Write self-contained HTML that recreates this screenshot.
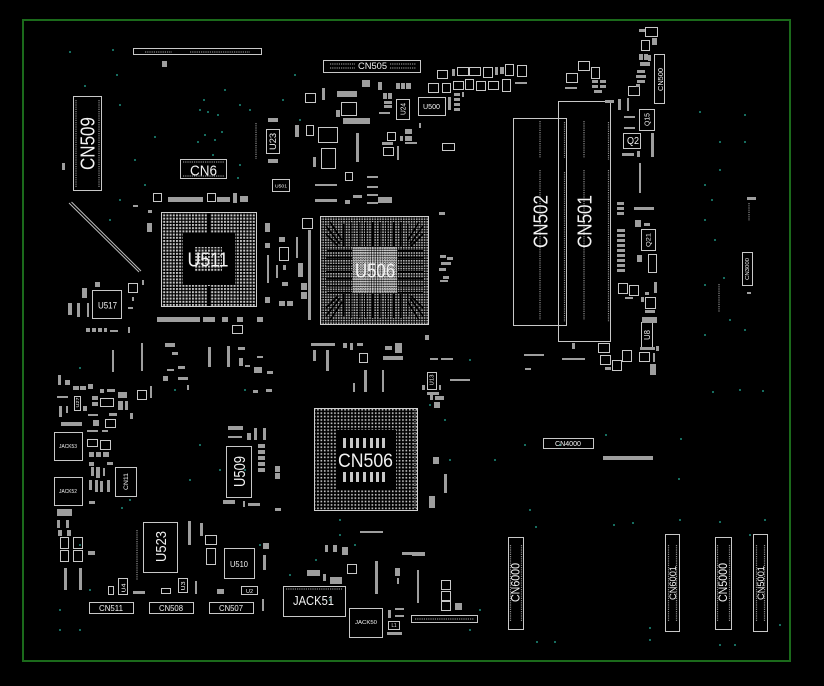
<!DOCTYPE html>
<html><head><meta charset="utf-8"><style>
html,body{margin:0;padding:0;background:#000;width:824px;height:686px;overflow:hidden}
svg{display:block}
.o rect{fill:none;stroke:#c8c8c8;stroke-width:1}
.p rect{fill:#9e9e9e}
.d line{stroke:#8a8a8a;stroke-width:1.2;stroke-dasharray:1.2 1}
text{font-family:"Liberation Sans",Arial,sans-serif;fill:#f2f2f2}
.v circle{fill:#1d8f7e}
</style></head><body>
<svg width="824" height="686" viewBox="0 0 824 686" xmlns="http://www.w3.org/2000/svg">
<defs>
<pattern id="g1" width="3.2" height="3.2" patternUnits="userSpaceOnUse"><rect width="2" height="2" fill="#c4c4c4"/></pattern>
<pattern id="g2" width="2.6" height="2.6" patternUnits="userSpaceOnUse"><rect width="1.6" height="1.6" fill="#b4b4b4"/></pattern>
<pattern id="g4" width="2.4" height="2.4" patternUnits="userSpaceOnUse"><rect width="1.7" height="1.7" fill="#c8c8c8"/></pattern>
<pattern id="g3" width="3.4" height="3.4" patternUnits="userSpaceOnUse"><rect x="0.9" y="0.9" width="1.7" height="1.7" fill="#bdbdbd"/></pattern>
</defs>
<rect width="824" height="686" fill="#000"/>
<rect x="23" y="20" width="767" height="641" fill="none" stroke="#1b6a1b" stroke-width="2"/>

<g class="v">
<circle cx="113" cy="50" r="1"/><circle cx="117" cy="75" r="1"/><circle cx="120" cy="105" r="1"/><circle cx="200" cy="110" r="1"/><circle cx="205" cy="135" r="1"/><circle cx="155" cy="137" r="1"/><circle cx="240" cy="105" r="1"/><circle cx="213" cy="155" r="1"/><circle cx="135" cy="160" r="1"/><circle cx="145" cy="185" r="1"/><circle cx="120" cy="200" r="1"/><circle cx="238" cy="178" r="1"/><circle cx="110" cy="220" r="1"/><circle cx="240" cy="165" r="1"/><circle cx="250" cy="110" r="1"/><circle cx="295" cy="75" r="1"/><circle cx="300" cy="120" r="1"/><circle cx="283" cy="100" r="1"/><circle cx="215" cy="140" r="1"/><circle cx="204" cy="100" r="1"/><circle cx="218" cy="115" r="1"/><circle cx="225" cy="90" r="1"/><circle cx="208" cy="112" r="1"/><circle cx="198" cy="142" r="1"/><circle cx="222" cy="132" r="1"/><circle cx="70" cy="52" r="1"/><circle cx="85" cy="86" r="1"/>
<circle cx="700" cy="112" r="1"/><circle cx="720" cy="142" r="1"/><circle cx="745" cy="142" r="1"/><circle cx="720" cy="170" r="1"/><circle cx="705" cy="185" r="1"/><circle cx="712" cy="200" r="1"/><circle cx="705" cy="220" r="1"/><circle cx="715" cy="240" r="1"/><circle cx="724" cy="278" r="1"/><circle cx="730" cy="320" r="1"/><circle cx="745" cy="330" r="1"/><circle cx="705" cy="335" r="1"/><circle cx="705" cy="285" r="1"/><circle cx="740" cy="390" r="1"/><circle cx="745" cy="115" r="1"/><circle cx="713" cy="392" r="1"/><circle cx="763" cy="391" r="1"/>
<circle cx="430" cy="405" r="1"/><circle cx="445" cy="420" r="1"/><circle cx="470" cy="360" r="1"/><circle cx="525" cy="445" r="1"/><circle cx="560" cy="445" r="1"/><circle cx="495" cy="460" r="1"/><circle cx="450" cy="460" r="1"/><circle cx="530" cy="510" r="1"/><circle cx="536" cy="527" r="1"/><circle cx="614" cy="525" r="1"/><circle cx="633" cy="523" r="1"/><circle cx="680" cy="520" r="1"/><circle cx="720" cy="522" r="1"/><circle cx="750" cy="535" r="1"/><circle cx="765" cy="520" r="1"/><circle cx="537" cy="642" r="1"/><circle cx="555" cy="642" r="1"/><circle cx="650" cy="640" r="1"/><circle cx="720" cy="645" r="1"/><circle cx="735" cy="645" r="1"/><circle cx="780" cy="625" r="1"/><circle cx="650" cy="628" r="1"/><circle cx="470" cy="630" r="1"/><circle cx="480" cy="610" r="1"/><circle cx="681" cy="439" r="1"/><circle cx="679" cy="479" r="1"/><circle cx="606" cy="435" r="1"/>
<circle cx="80" cy="630" r="1"/><circle cx="90" cy="590" r="1"/><circle cx="60" cy="610" r="1"/><circle cx="80" cy="545" r="1"/><circle cx="200" cy="445" r="1"/><circle cx="190" cy="480" r="1"/><circle cx="175" cy="390" r="1"/><circle cx="245" cy="390" r="1"/><circle cx="220" cy="470" r="1"/><circle cx="130" cy="500" r="1"/><circle cx="245" cy="470" r="1"/><circle cx="260" cy="545" r="1"/><circle cx="340" cy="520" r="1"/><circle cx="355" cy="545" r="1"/><circle cx="330" cy="600" r="1"/><circle cx="340" cy="535" r="1"/><circle cx="290" cy="575" r="1"/><circle cx="316" cy="560" r="1"/><circle cx="60" cy="630" r="1"/><circle cx="80" cy="368" r="1"/><circle cx="122" cy="508" r="1"/>
</g>

<line x1="69" y1="203" x2="139" y2="272" stroke="#bcbcbc" stroke-width="1"/>
<line x1="71.5" y1="202" x2="141" y2="271" stroke="#bcbcbc" stroke-width="1"/>

<rect x="161.5" y="212.5" width="95" height="94" fill="url(#g1)" stroke="#d0d0d0"/>
<rect x="183" y="233" width="52" height="52" fill="#000"/>
<rect x="195" y="247" width="27" height="25" fill="url(#g1)"/>
<rect x="207" y="213" width="3" height="20" fill="#000"/>
<rect x="207" y="286" width="3" height="20" fill="#000"/>

<rect x="320.5" y="216.5" width="108" height="108" fill="url(#g2)" stroke="#d0d0d0"/>
<rect x="353" y="247" width="44" height="46" fill="url(#g4)"/>
<g fill="#000">
<rect x="343" y="224" width="1.6" height="22"/><rect x="350" y="222" width="1.6" height="24"/><rect x="358" y="222" width="1.6" height="24"/><rect x="365" y="222" width="1.6" height="24"/><rect x="372" y="222" width="1.6" height="24"/><rect x="379" y="222" width="1.6" height="24"/><rect x="386" y="222" width="1.6" height="24"/><rect x="393" y="222" width="1.6" height="24"/><rect x="400" y="222" width="1.6" height="24"/><rect x="407" y="224" width="1.6" height="22"/>
<rect x="343" y="294" width="1.6" height="22"/><rect x="350" y="294" width="1.6" height="24"/><rect x="358" y="294" width="1.6" height="24"/><rect x="365" y="294" width="1.6" height="24"/><rect x="372" y="294" width="1.6" height="24"/><rect x="379" y="294" width="1.6" height="24"/><rect x="386" y="294" width="1.6" height="24"/><rect x="393" y="294" width="1.6" height="24"/><rect x="400" y="294" width="1.6" height="24"/><rect x="407" y="294" width="1.6" height="22"/>
<rect x="327" y="250" width="25" height="1.6"/><rect x="326" y="257" width="26" height="1.6"/><rect x="326" y="264" width="26" height="1.6"/><rect x="326" y="271" width="26" height="1.6"/><rect x="326" y="278" width="26" height="1.6"/><rect x="326" y="285" width="26" height="1.6"/><rect x="327" y="292" width="25" height="1.6"/>
<rect x="398" y="250" width="25" height="1.6"/><rect x="398" y="257" width="26" height="1.6"/><rect x="398" y="264" width="26" height="1.6"/><rect x="398" y="271" width="26" height="1.6"/><rect x="398" y="278" width="26" height="1.6"/><rect x="398" y="285" width="26" height="1.6"/><rect x="398" y="292" width="25" height="1.6"/>
</g>
<g stroke="#000" stroke-width="1.6">
<line x1="326" y1="226" x2="340" y2="244"/><line x1="330" y1="222" x2="342" y2="240"/><line x1="326" y1="234" x2="338" y2="246"/>
<line x1="423" y1="226" x2="410" y2="244"/><line x1="419" y1="222" x2="408" y2="240"/><line x1="423" y1="234" x2="411" y2="246"/>
<line x1="326" y1="316" x2="340" y2="298"/><line x1="330" y1="320" x2="342" y2="302"/><line x1="326" y1="308" x2="338" y2="296"/>
<line x1="423" y1="316" x2="410" y2="298"/><line x1="419" y1="320" x2="408" y2="302"/><line x1="423" y1="308" x2="411" y2="296"/>
</g>

<rect x="314.5" y="408.5" width="103" height="102" fill="url(#g3)" stroke="#d0d0d0"/>
<rect x="336" y="430" width="60" height="60" fill="#000"/>
<g fill="#c8c8c8">
<rect x="343" y="438" width="3" height="10"/><rect x="350" y="438" width="3" height="10"/><rect x="356" y="438" width="3" height="10"/><rect x="363" y="438" width="3" height="10"/><rect x="370" y="438" width="3" height="10"/><rect x="376" y="438" width="3" height="10"/><rect x="382" y="438" width="3" height="10"/>
<rect x="343" y="472" width="3" height="10"/><rect x="350" y="472" width="3" height="10"/><rect x="356" y="472" width="3" height="10"/><rect x="363" y="472" width="3" height="10"/><rect x="370" y="472" width="3" height="10"/><rect x="376" y="472" width="3" height="10"/><rect x="382" y="472" width="3" height="10"/>
</g>

<g class="o">
<rect x="133.5" y="48.5" width="128" height="6"/>
<rect x="323.5" y="60.5" width="97" height="12"/>
<rect x="73.5" y="96.5" width="28" height="94"/>
<rect x="180.5" y="159.5" width="46" height="19"/>
<rect x="266.5" y="129.5" width="13" height="24"/>
<rect x="272.5" y="179.5" width="17" height="12"/>
<rect x="92.5" y="290.5" width="29" height="28"/>
<rect x="513.5" y="118.5" width="53" height="207"/>
<rect x="558.5" y="101.5" width="52" height="240"/>
<rect x="418.5" y="97.5" width="27" height="18"/>
<rect x="396.5" y="99.5" width="13" height="20"/>
<rect x="654.5" y="54.5" width="10" height="49"/>
<rect x="639.5" y="109.5" width="15" height="21"/>
<rect x="623.5" y="133.5" width="17" height="15"/>
<rect x="641.5" y="229.5" width="14" height="21"/>
<rect x="742.5" y="252.5" width="10" height="33"/>
<rect x="641.5" y="322.5" width="11" height="25"/>
<rect x="543.5" y="438.5" width="50" height="10"/>
<rect x="508.5" y="537.5" width="15" height="92"/>
<rect x="665.5" y="534.5" width="14" height="97"/>
<rect x="715.5" y="537.5" width="16" height="92"/>
<rect x="753.5" y="534.5" width="14" height="97"/>
<rect x="54.5" y="432.5" width="28" height="28"/>
<rect x="54.5" y="477.5" width="28" height="28"/>
<rect x="115.5" y="467.5" width="21" height="29"/>
<rect x="226.5" y="446.5" width="25" height="51"/>
<rect x="143.5" y="522.5" width="34" height="50"/>
<rect x="224.5" y="548.5" width="30" height="30"/>
<rect x="241.5" y="586.5" width="16" height="8"/>
<rect x="178.5" y="578.5" width="9" height="14"/>
<rect x="118.5" y="578.5" width="9" height="16"/>
<rect x="89.5" y="602.5" width="44" height="11"/>
<rect x="149.5" y="602.5" width="44" height="11"/>
<rect x="209.5" y="602.5" width="44" height="11"/>
<rect x="283.5" y="586.5" width="62" height="30"/>
<rect x="349.5" y="608.5" width="33" height="29"/>
<rect x="388.5" y="621.5" width="11" height="8"/>
<rect x="411.5" y="615.5" width="66" height="7"/>
<rect x="74.5" y="396.5" width="6" height="14"/>
<rect x="427.5" y="372.5" width="9" height="17"/>
<rect x="305.5" y="93.5" width="10" height="9"/><rect x="341.5" y="102.5" width="15" height="13"/><rect x="318.5" y="127.5" width="19" height="15"/><rect x="321.5" y="148.5" width="14" height="20"/><rect x="345.5" y="172.5" width="7" height="8"/><rect x="306.5" y="125.5" width="7" height="10"/><rect x="387.5" y="132.5" width="8" height="8"/><rect x="383.5" y="147.5" width="10" height="8"/><rect x="153.5" y="193.5" width="8" height="8"/><rect x="207.5" y="193.5" width="8" height="8"/><rect x="232.5" y="325.5" width="10" height="8"/><rect x="279.5" y="247.5" width="9" height="13"/><rect x="302.5" y="218.5" width="10" height="10"/><rect x="128.5" y="283.5" width="9" height="9"/>
<rect x="437.5" y="70.5" width="10" height="8"/><rect x="457.5" y="67.5" width="11" height="8"/><rect x="469.5" y="67.5" width="11" height="8"/><rect x="483.5" y="67.5" width="9" height="10"/><rect x="505.5" y="64.5" width="8" height="11"/><rect x="517.5" y="65.5" width="9" height="11"/><rect x="428.5" y="83.5" width="10" height="9"/><rect x="442.5" y="83.5" width="8" height="9"/><rect x="453.5" y="81.5" width="10" height="8"/><rect x="465.5" y="79.5" width="8" height="10"/><rect x="476.5" y="81.5" width="9" height="9"/><rect x="488.5" y="81.5" width="10" height="8"/><rect x="502.5" y="79.5" width="8" height="12"/><rect x="442.5" y="143.5" width="12" height="7"/>
<rect x="578.5" y="61.5" width="11" height="9"/><rect x="591.5" y="67.5" width="8" height="11"/><rect x="566.5" y="73.5" width="11" height="9"/><rect x="645.5" y="27.5" width="12" height="9"/><rect x="641.5" y="40.5" width="8" height="10"/><rect x="628.5" y="86.5" width="11" height="9"/><rect x="648.5" y="254.5" width="8" height="18"/><rect x="618.5" y="283.5" width="9" height="10"/><rect x="629.5" y="285.5" width="9" height="10"/><rect x="645.5" y="297.5" width="10" height="11"/>
<rect x="100.5" y="398.5" width="13" height="8"/><rect x="137.5" y="390.5" width="9" height="9"/><rect x="105.5" y="419.5" width="10" height="8"/><rect x="87.5" y="439.5" width="10" height="7"/><rect x="100.5" y="440.5" width="10" height="9"/><rect x="60.5" y="537.5" width="8" height="11"/><rect x="73.5" y="537.5" width="9" height="11"/><rect x="60.5" y="550.5" width="8" height="11"/><rect x="73.5" y="550.5" width="9" height="11"/><rect x="108.5" y="586.5" width="5" height="8"/><rect x="205.5" y="535.5" width="11" height="9"/><rect x="206.5" y="548.5" width="9" height="16"/><rect x="359.5" y="353.5" width="8" height="9"/><rect x="347.5" y="564.5" width="9" height="9"/><rect x="598.5" y="343.5" width="11" height="9"/><rect x="600.5" y="355.5" width="10" height="9"/><rect x="612.5" y="360.5" width="9" height="10"/><rect x="622.5" y="350.5" width="9" height="11"/><rect x="639.5" y="352.5" width="10" height="9"/><rect x="441.5" y="580.5" width="9" height="9"/><rect x="441.5" y="591.5" width="9" height="9"/><rect x="441.5" y="601.5" width="9" height="9"/><rect x="161.5" y="588.5" width="9" height="5"/>
</g>

<g class="d">
<line x1="145" y1="52" x2="172" y2="52"/><line x1="190" y1="52" x2="250" y2="52"/>
<line x1="330" y1="64" x2="355" y2="64"/><line x1="330" y1="68" x2="355" y2="68"/><line x1="390" y1="64" x2="416" y2="64"/><line x1="390" y1="68" x2="416" y2="68"/>
<line x1="76" y1="100" x2="76" y2="188"/><line x1="99" y1="100" x2="99" y2="188"/>
<line x1="183" y1="162" x2="224" y2="162"/><line x1="183" y1="176" x2="224" y2="176"/>
<line x1="540" y1="121" x2="540" y2="158"/><line x1="540" y1="170" x2="540" y2="320"/>
<line x1="564.5" y1="122" x2="564.5" y2="158"/><line x1="564.5" y1="172" x2="564.5" y2="322"/>
<line x1="584" y1="121" x2="584" y2="158"/><line x1="584" y1="170" x2="584" y2="320"/>
<line x1="608.5" y1="122" x2="608.5" y2="160"/><line x1="608.5" y1="170" x2="608.5" y2="322"/>
<line x1="510.5" y1="545" x2="510.5" y2="622"/><line x1="521.5" y1="545" x2="521.5" y2="622"/>
<line x1="717.5" y1="545" x2="717.5" y2="622"/><line x1="729.5" y1="545" x2="729.5" y2="622"/>
<line x1="668.5" y1="545" x2="668.5" y2="622"/><line x1="676.5" y1="545" x2="676.5" y2="622"/>
<line x1="756.5" y1="545" x2="756.5" y2="622"/><line x1="764.5" y1="545" x2="764.5" y2="622"/>
<line x1="606" y1="458" x2="651" y2="458"/>
<line x1="415" y1="619" x2="474" y2="619"/>
<line x1="415" y1="410" x2="415" y2="508"/>
<line x1="286" y1="589" x2="342" y2="589"/>
<line x1="719" y1="284" x2="719" y2="312"/><line x1="749" y1="203" x2="749" y2="221"/>
<line x1="256" y1="123" x2="256" y2="159"/><line x1="309.5" y1="231" x2="309.5" y2="319"/>
<line x1="170" y1="199" x2="203" y2="199"/><line x1="170" y1="319" x2="200" y2="319"/>
<line x1="137" y1="530" x2="137" y2="580"/>
</g>

<g class="p">
<rect x="162" y="61" width="5" height="6"/><rect x="62" y="163" width="3" height="7"/>
<rect x="268" y="118" width="10" height="4"/><rect x="268" y="159" width="10" height="4"/><rect x="295" y="125" width="4" height="12"/><rect x="313" y="157" width="3" height="10"/><rect x="322" y="88" width="3" height="12"/><rect x="337" y="91" width="20" height="6"/><rect x="336" y="110" width="4" height="7"/><rect x="343" y="118" width="27" height="6"/><rect x="356" y="133" width="3" height="29"/><rect x="315" y="184" width="22" height="2"/><rect x="315" y="199" width="22" height="3"/><rect x="367" y="176" width="11" height="2"/><rect x="367" y="186" width="11" height="2"/><rect x="367" y="194" width="11" height="2"/><rect x="367" y="202" width="11" height="2"/><rect x="353" y="195" width="9" height="3"/><rect x="378" y="197" width="14" height="6"/><rect x="345" y="200" width="5" height="4"/>
<rect x="383" y="93" width="4" height="6"/><rect x="388" y="93" width="4" height="6"/><rect x="384" y="101" width="8" height="3"/><rect x="384" y="105" width="8" height="3"/>
<rect x="396" y="83" width="4" height="6"/><rect x="401" y="83" width="4" height="6"/><rect x="406" y="83" width="5" height="6"/>
<rect x="405" y="129" width="7" height="5"/><rect x="405" y="136" width="7" height="5"/>
<rect x="382" y="142" width="11" height="3"/><rect x="397" y="146" width="2" height="14"/><rect x="400" y="136" width="3" height="5"/><rect x="405" y="142" width="12" height="2"/><rect x="379" y="112" width="11" height="2"/><rect x="378" y="82" width="4" height="8"/><rect x="362" y="80" width="8" height="7"/>
<rect x="168" y="197" width="35" height="5"/><rect x="217" y="197" width="13" height="5"/><rect x="233" y="193" width="4" height="10"/><rect x="240" y="196" width="8" height="6"/>
<rect x="157" y="317" width="16" height="5"/><rect x="168" y="317" width="32" height="5"/><rect x="203" y="317" width="12" height="5"/><rect x="222" y="317" width="6" height="5"/><rect x="237" y="317" width="6" height="5"/><rect x="257" y="317" width="6" height="5"/>
<rect x="265" y="223" width="5" height="9"/><rect x="265" y="243" width="5" height="5"/><rect x="265" y="297" width="5" height="6"/><rect x="267" y="255" width="2" height="28"/><rect x="279" y="237" width="6" height="5"/><rect x="283" y="265" width="3" height="5"/><rect x="282" y="282" width="6" height="4"/><rect x="296" y="237" width="2" height="21"/><rect x="308" y="230" width="3" height="90"/><rect x="298" y="263" width="5" height="14"/>
<rect x="279" y="301" width="6" height="5"/><rect x="287" y="301" width="6" height="5"/><rect x="301" y="283" width="6" height="7"/><rect x="301" y="292" width="6" height="7"/>
<rect x="276" y="265" width="2" height="13"/><rect x="147" y="223" width="5" height="9"/><rect x="133" y="205" width="5" height="2"/><rect x="148" y="210" width="4" height="3"/>
<rect x="82" y="288" width="5" height="10"/><rect x="95" y="282" width="5" height="5"/><rect x="142" y="280" width="2" height="5"/><rect x="132" y="297" width="2" height="4"/><rect x="128" y="307" width="5" height="2"/><rect x="68" y="303" width="4" height="12"/><rect x="77" y="303" width="3" height="14"/><rect x="87" y="303" width="2" height="14"/>
<rect x="86" y="328" width="4" height="4"/><rect x="92" y="328" width="4" height="4"/><rect x="98" y="328" width="4" height="4"/><rect x="104" y="328" width="3" height="4"/>
<rect x="110" y="330" width="8" height="2"/><rect x="128" y="327" width="2" height="6"/>
<rect x="452" y="69" width="3" height="7"/><rect x="495" y="67" width="3" height="8"/><rect x="500" y="67" width="4" height="7"/><rect x="515" y="82" width="12" height="2"/>
<rect x="454" y="93" width="6" height="3"/><rect x="454" y="98" width="6" height="3"/><rect x="454" y="103" width="6" height="3"/><rect x="454" y="108" width="6" height="3"/>
<rect x="462" y="92" width="2" height="5"/><rect x="448" y="97" width="3" height="13"/><rect x="419" y="123" width="2" height="5"/>
<rect x="592" y="80" width="6" height="3"/><rect x="600" y="80" width="6" height="3"/><rect x="592" y="85" width="6" height="3"/><rect x="600" y="85" width="6" height="3"/><rect x="594" y="90" width="8" height="3"/>
<rect x="565" y="87" width="12" height="2"/><rect x="605" y="100" width="9" height="3"/><rect x="618" y="99" width="3" height="11"/><rect x="627" y="98" width="2" height="13"/><rect x="624" y="116" width="11" height="2"/><rect x="624" y="127" width="11" height="2"/><rect x="622" y="153" width="12" height="3"/><rect x="637" y="151" width="3" height="6"/><rect x="651" y="133" width="3" height="24"/><rect x="639" y="163" width="2" height="30"/><rect x="634" y="207" width="20" height="3"/>
<rect x="617" y="202" width="7" height="3"/><rect x="617" y="207" width="7" height="3"/><rect x="617" y="212" width="7" height="3"/>
<rect x="617" y="229" width="8" height="3"/><rect x="617" y="234" width="8" height="3"/><rect x="617" y="239" width="8" height="3"/><rect x="617" y="244" width="8" height="3"/><rect x="617" y="249" width="8" height="3"/><rect x="617" y="254" width="8" height="3"/><rect x="617" y="259" width="8" height="3"/><rect x="617" y="264" width="8" height="3"/><rect x="617" y="269" width="8" height="3"/>
<rect x="635" y="220" width="6" height="7"/><rect x="644" y="223" width="6" height="3"/><rect x="637" y="255" width="5" height="7"/><rect x="654" y="282" width="3" height="11"/><rect x="625" y="297" width="8" height="2"/><rect x="645" y="292" width="4" height="3"/><rect x="641" y="297" width="3" height="5"/><rect x="645" y="310" width="10" height="3"/><rect x="642" y="317" width="15" height="6"/>
<rect x="639" y="29" width="6" height="3"/><rect x="652" y="38" width="5" height="7"/>
<rect x="639" y="54" width="4" height="6"/><rect x="644" y="54" width="4" height="6"/><rect x="648" y="55" width="3" height="6"/><rect x="640" y="62" width="10" height="4"/>
<rect x="637" y="70" width="8" height="3"/><rect x="636" y="75" width="10" height="3"/><rect x="637" y="80" width="8" height="3"/><rect x="636" y="84" width="4" height="3"/>
<rect x="747" y="197" width="9" height="3"/><rect x="747" y="292" width="4" height="2"/>
<rect x="440" y="255" width="6" height="3"/><rect x="447" y="257" width="6" height="3"/><rect x="441" y="262" width="10" height="3"/><rect x="439" y="268" width="7" height="3"/><rect x="443" y="276" width="6" height="3"/><rect x="440" y="280" width="8" height="2"/><rect x="439" y="212" width="6" height="3"/><rect x="425" y="335" width="4" height="5"/>
<rect x="112" y="350" width="2" height="22"/><rect x="141" y="343" width="2" height="28"/><rect x="208" y="347" width="3" height="20"/><rect x="227" y="346" width="3" height="21"/><rect x="239" y="358" width="4" height="8"/><rect x="238" y="347" width="7" height="3"/><rect x="245" y="365" width="5" height="2"/><rect x="254" y="367" width="8" height="6"/><rect x="267" y="371" width="6" height="3"/><rect x="257" y="356" width="6" height="2"/><rect x="253" y="390" width="5" height="3"/><rect x="266" y="389" width="6" height="3"/>
<rect x="165" y="343" width="10" height="4"/><rect x="172" y="352" width="6" height="3"/><rect x="167" y="369" width="7" height="2"/><rect x="178" y="366" width="7" height="3"/><rect x="163" y="376" width="5" height="5"/><rect x="178" y="377" width="10" height="3"/><rect x="187" y="385" width="2" height="5"/>
<rect x="58" y="375" width="3" height="10"/><rect x="65" y="380" width="5" height="5"/><rect x="73" y="386" width="6" height="4"/><rect x="80" y="386" width="6" height="4"/><rect x="88" y="384" width="5" height="5"/><rect x="57" y="396" width="11" height="2"/><rect x="59" y="406" width="3" height="11"/><rect x="66" y="406" width="2" height="7"/><rect x="83" y="406" width="4" height="5"/><rect x="92" y="396" width="6" height="4"/><rect x="92" y="402" width="6" height="4"/><rect x="88" y="414" width="10" height="2"/><rect x="93" y="420" width="6" height="6"/><rect x="100" y="389" width="4" height="4"/><rect x="107" y="389" width="8" height="3"/><rect x="118" y="392" width="9" height="6"/><rect x="118" y="401" width="5" height="9"/><rect x="125" y="401" width="3" height="9"/><rect x="130" y="413" width="3" height="6"/><rect x="109" y="413" width="8" height="3"/><rect x="61" y="422" width="21" height="4"/><rect x="150" y="386" width="2" height="12"/>
<rect x="87" y="430" width="11" height="2"/><rect x="102" y="430" width="6" height="2"/><rect x="89" y="452" width="5" height="5"/><rect x="96" y="452" width="5" height="5"/><rect x="103" y="452" width="6" height="5"/><rect x="89" y="462" width="5" height="4"/><rect x="107" y="462" width="6" height="3"/><rect x="91" y="467" width="3" height="9"/><rect x="96" y="467" width="4" height="11"/><rect x="103" y="468" width="2" height="8"/><rect x="89" y="480" width="3" height="10"/><rect x="95" y="480" width="3" height="12"/><rect x="100" y="481" width="3" height="11"/><rect x="107" y="480" width="3" height="12"/><rect x="89" y="501" width="6" height="3"/>
<rect x="57" y="509" width="15" height="7"/><rect x="57" y="520" width="3" height="8"/><rect x="66" y="520" width="3" height="8"/><rect x="58" y="530" width="4" height="6"/><rect x="67" y="530" width="4" height="6"/><rect x="88" y="551" width="7" height="4"/>
<rect x="64" y="568" width="3" height="22"/><rect x="79" y="568" width="3" height="22"/><rect x="133" y="591" width="12" height="3"/>
<rect x="188" y="521" width="3" height="24"/><rect x="200" y="523" width="3" height="13"/><rect x="195" y="581" width="2" height="13"/><rect x="217" y="589" width="7" height="5"/><rect x="263" y="555" width="3" height="15"/><rect x="263" y="543" width="6" height="6"/><rect x="262" y="599" width="2" height="12"/>
<rect x="228" y="426" width="15" height="4"/><rect x="228" y="436" width="14" height="2"/><rect x="247" y="433" width="4" height="7"/><rect x="254" y="428" width="3" height="12"/><rect x="263" y="428" width="3" height="12"/>
<rect x="258" y="444" width="7" height="4"/><rect x="258" y="450" width="7" height="4"/><rect x="258" y="456" width="7" height="4"/><rect x="258" y="462" width="7" height="4"/><rect x="258" y="468" width="7" height="4"/>
<rect x="275" y="466" width="5" height="6"/><rect x="275" y="473" width="5" height="6"/><rect x="223" y="500" width="12" height="4"/><rect x="243" y="501" width="2" height="6"/><rect x="248" y="503" width="12" height="3"/><rect x="275" y="508" width="6" height="3"/>
<rect x="311" y="343" width="24" height="3"/><rect x="313" y="350" width="3" height="11"/><rect x="326" y="350" width="3" height="21"/><rect x="343" y="343" width="4" height="5"/><rect x="350" y="343" width="3" height="7"/><rect x="357" y="343" width="6" height="3"/><rect x="353" y="383" width="2" height="9"/><rect x="364" y="370" width="3" height="22"/><rect x="382" y="370" width="2" height="22"/><rect x="385" y="346" width="7" height="4"/><rect x="383" y="356" width="20" height="4"/><rect x="395" y="343" width="7" height="10"/>
<rect x="360" y="531" width="23" height="2"/><rect x="325" y="545" width="3" height="7"/><rect x="333" y="545" width="4" height="7"/><rect x="342" y="547" width="6" height="8"/><rect x="375" y="561" width="3" height="33"/><rect x="307" y="570" width="13" height="6"/><rect x="323" y="574" width="3" height="7"/><rect x="330" y="577" width="12" height="7"/><rect x="395" y="568" width="5" height="8"/><rect x="397" y="578" width="2" height="6"/><rect x="402" y="552" width="10" height="3"/><rect x="388" y="610" width="3" height="8"/><rect x="395" y="608" width="9" height="2"/><rect x="395" y="615" width="9" height="2"/><rect x="387" y="632" width="15" height="3"/>
<rect x="430" y="358" width="8" height="2"/><rect x="441" y="358" width="12" height="2"/><rect x="450" y="379" width="20" height="2"/><rect x="422" y="385" width="3" height="5"/><rect x="439" y="385" width="2" height="5"/><rect x="427" y="392" width="12" height="3"/><rect x="430" y="395" width="3" height="5"/><rect x="435" y="396" width="9" height="4"/><rect x="434" y="402" width="6" height="6"/>
<rect x="524" y="354" width="20" height="2"/><rect x="525" y="368" width="6" height="2"/><rect x="562" y="358" width="23" height="2"/><rect x="572" y="343" width="3" height="6"/>
<rect x="605" y="367" width="6" height="3"/><rect x="640" y="347" width="15" height="3"/><rect x="653" y="353" width="2" height="9"/><rect x="650" y="364" width="6" height="11"/><rect x="656" y="346" width="3" height="5"/>
<rect x="433" y="457" width="6" height="7"/><rect x="444" y="474" width="3" height="19"/><rect x="429" y="496" width="6" height="12"/>
<rect x="412" y="552" width="13" height="4"/><rect x="417" y="570" width="2" height="33"/><rect x="455" y="603" width="7" height="7"/>
<rect x="603" y="456" width="50" height="4"/>
</g>

<text transform="translate(87.5,143.5) rotate(-90)" y="7" font-size="20" text-anchor="middle" textLength="53" lengthAdjust="spacingAndGlyphs">CN509</text>
<text x="203.5" y="175.5" font-size="15" text-anchor="middle" textLength="27" lengthAdjust="spacingAndGlyphs">CN6</text>
<text x="208" y="266.5" font-size="20" text-anchor="middle" textLength="41" lengthAdjust="spacingAndGlyphs">U511</text>
<text x="375" y="277.5" font-size="20" text-anchor="middle" textLength="40" lengthAdjust="spacingAndGlyphs">U506</text>
<text transform="translate(540.5,221.5) rotate(-90)" y="7" font-size="20" text-anchor="middle" textLength="53" lengthAdjust="spacingAndGlyphs">CN502</text>
<text transform="translate(584.5,221.5) rotate(-90)" y="7" font-size="20" text-anchor="middle" textLength="53" lengthAdjust="spacingAndGlyphs">CN501</text>
<text x="365.5" y="467" font-size="19" text-anchor="middle" textLength="55" lengthAdjust="spacingAndGlyphs">CN506</text>
<text transform="translate(239,471.5) rotate(-90)" y="6" font-size="16" text-anchor="middle" textLength="31" lengthAdjust="spacingAndGlyphs">U509</text>
<text transform="translate(160.5,546.5) rotate(-90)" y="5.5" font-size="15" text-anchor="middle" textLength="31" lengthAdjust="spacingAndGlyphs">U523</text>
<text x="313.5" y="605" font-size="12.5" text-anchor="middle" textLength="41" lengthAdjust="spacingAndGlyphs">JACK51</text>
<g fill="#e6e6e6">
<text x="107.5" y="308.3" font-size="9" text-anchor="middle" textLength="19" lengthAdjust="spacingAndGlyphs">U517</text>
<text x="239" y="567" font-size="8.5" text-anchor="middle" textLength="18" lengthAdjust="spacingAndGlyphs">U510</text>
<text x="111" y="611" font-size="8.5" text-anchor="middle" textLength="24" lengthAdjust="spacingAndGlyphs">CN511</text>
<text x="171" y="611" font-size="8.5" text-anchor="middle" textLength="24" lengthAdjust="spacingAndGlyphs">CN508</text>
<text x="231" y="611" font-size="8.5" text-anchor="middle" textLength="24" lengthAdjust="spacingAndGlyphs">CN507</text>
<text x="372.5" y="69.2" font-size="9" text-anchor="middle" textLength="29" lengthAdjust="spacingAndGlyphs">CN505</text>
<text x="568" y="446" font-size="7" text-anchor="middle" textLength="26" lengthAdjust="spacingAndGlyphs">CN4000</text>
<text transform="translate(515.5,582.5) rotate(-90)" y="4" font-size="11.5" text-anchor="middle" textLength="39" lengthAdjust="spacingAndGlyphs">CN6000</text>
<text transform="translate(672.5,583) rotate(-90)" y="3.3" font-size="9.5" text-anchor="middle" textLength="34" lengthAdjust="spacingAndGlyphs">CN6001</text>
<text transform="translate(723,582.5) rotate(-90)" y="4" font-size="11.5" text-anchor="middle" textLength="39" lengthAdjust="spacingAndGlyphs">CN5000</text>
<text transform="translate(760.5,583) rotate(-90)" y="3.3" font-size="9.5" text-anchor="middle" textLength="34" lengthAdjust="spacingAndGlyphs">CN5001</text>
<text transform="translate(660.5,79.5) rotate(-90)" y="2.7" font-size="7.5" text-anchor="middle" textLength="23" lengthAdjust="spacingAndGlyphs">CN500</text>
<text transform="translate(647,119.5) rotate(-90)" y="2.6" font-size="7" text-anchor="middle" textLength="13" lengthAdjust="spacingAndGlyphs">Q15</text>
<text x="633" y="144" font-size="10" text-anchor="middle" textLength="12" lengthAdjust="spacingAndGlyphs">Q2</text>
<text transform="translate(648,240) rotate(-90)" y="2.3" font-size="6.5" text-anchor="middle" textLength="14" lengthAdjust="spacingAndGlyphs">Q21</text>
<text transform="translate(747,269) rotate(-90)" y="2" font-size="5.5" text-anchor="middle" textLength="22" lengthAdjust="spacingAndGlyphs">CN3000</text>
<text transform="translate(647,335) rotate(-90)" y="3" font-size="8" text-anchor="middle" textLength="10" lengthAdjust="spacingAndGlyphs">U8</text>
<text x="431.5" y="109" font-size="7" text-anchor="middle" textLength="17" lengthAdjust="spacingAndGlyphs">U500</text>
<text transform="translate(403,109) rotate(-90)" y="2.5" font-size="7" text-anchor="middle" textLength="12" lengthAdjust="spacingAndGlyphs">U24</text>
<text transform="translate(273,141.5) rotate(-90)" y="3.2" font-size="9" text-anchor="middle" textLength="17" lengthAdjust="spacingAndGlyphs">U23</text>
<text x="281" y="187.6" font-size="4.5" text-anchor="middle" textLength="12" lengthAdjust="spacingAndGlyphs">U501</text>
<text x="68" y="447.8" font-size="5" text-anchor="middle" textLength="18" lengthAdjust="spacingAndGlyphs">JACK53</text>
<text x="68" y="492.8" font-size="5" text-anchor="middle" textLength="18" lengthAdjust="spacingAndGlyphs">JACK52</text>
<text x="366" y="624" font-size="5.5" text-anchor="middle" textLength="22" lengthAdjust="spacingAndGlyphs">JACK50</text>
<text transform="translate(125.5,481.5) rotate(-90)" y="2.3" font-size="6.5" text-anchor="middle" textLength="17" lengthAdjust="spacingAndGlyphs">CN11</text>
<text x="249.5" y="592.8" font-size="5" text-anchor="middle" textLength="7" lengthAdjust="spacingAndGlyphs">U2</text>
<text transform="translate(183,586) rotate(-90)" y="1.8" font-size="5" text-anchor="middle" textLength="9" lengthAdjust="spacingAndGlyphs">U3</text>
<text transform="translate(123.5,588) rotate(-90)" y="1.8" font-size="5" text-anchor="middle" textLength="9" lengthAdjust="spacingAndGlyphs">U4</text>
<text transform="translate(77.5,402.5) rotate(-90)" y="1.6" font-size="4.5" text-anchor="middle" textLength="10" lengthAdjust="spacingAndGlyphs">U27</text>
<text transform="translate(431.5,380) rotate(-90)" y="1.8" font-size="5" text-anchor="middle" textLength="11" lengthAdjust="spacingAndGlyphs">U13</text>
<text x="394" y="627" font-size="5" text-anchor="middle" textLength="5" lengthAdjust="spacingAndGlyphs">L1</text>
</g>
</svg>
</body></html>
